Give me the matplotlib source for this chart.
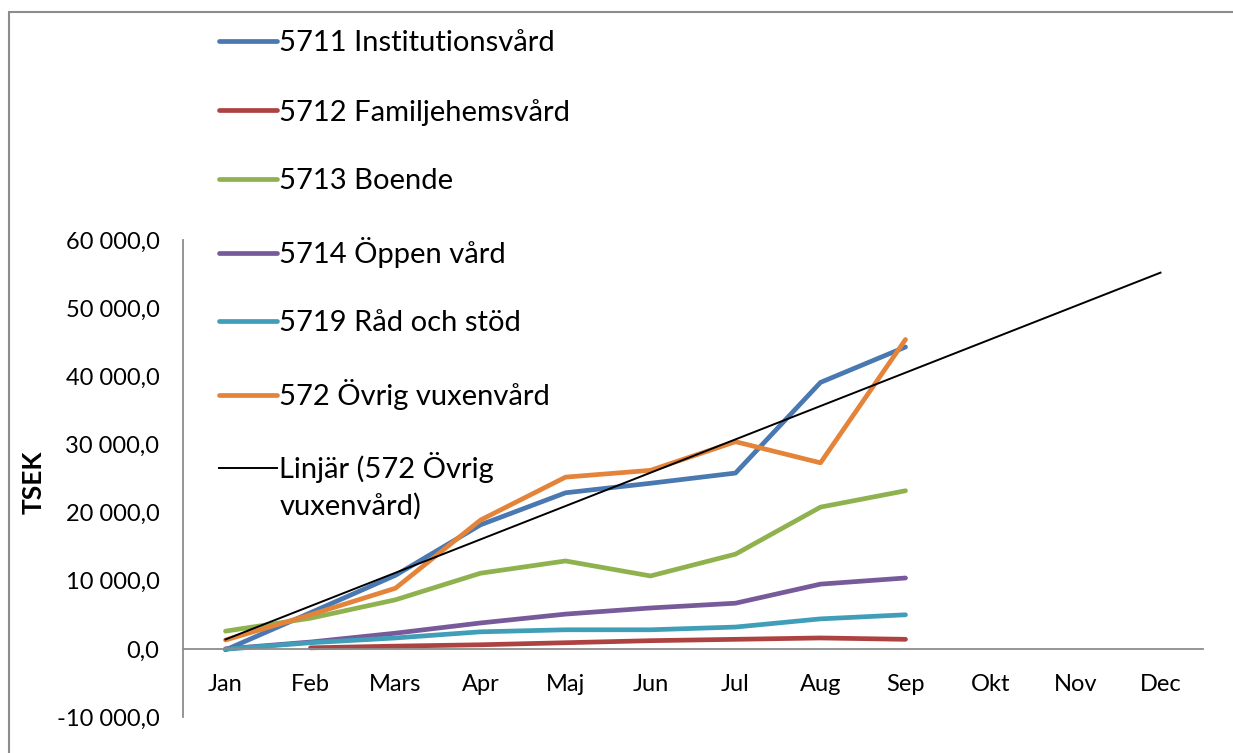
import numpy as np
import matplotlib
matplotlib.use("Agg")
import matplotlib.pyplot as plt
from matplotlib.ticker import FuncFormatter, MultipleLocator
from matplotlib.patches import Rectangle

plt.rcParams['font.family'] = ['Lato', 'DejaVu Sans']

months = ["Jan", "Feb", "Mars", "Apr", "Maj", "Jun", "Jul", "Aug", "Sep", "Okt", "Nov", "Dec"]
nan = np.nan
s5711 = [-150, 5300, 10800, 18200, 22900, 24300, 25800, 39100, 44300, nan, nan, nan]
s5712 = [nan, 150, 400, 600, 900, 1200, 1400, 1600, 1400, nan, nan, nan]
s5713 = [2600, 4500, 7200, 11100, 12900, 10700, 13900, 20800, 23200, nan, nan, nan]
s5714 = [0, 1000, 2300, 3800, 5100, 6000, 6700, 9500, 10400, nan, nan, nan]
s5719 = [-50, 900, 1600, 2500, 2800, 2800, 3200, 4400, 5000, nan, nan, nan]
s572 = [1300, 5000, 8900, 18900, 25200, 26200, 30400, 27300, 45400, nan, nan, nan]

labels = ["5711 Institutionsvård", "5712 Familjehemsvård", "5713 Boende",
          "5714 Öppen vård", "5719 Råd och stöd", "572 Övrig vuxenvård"]
colors = ["#4A78B0", "#AD4341", "#8FB24F", "#775A9A", "#409EB8", "#E4843A"]
trend_label_1 = "Linjär (572 Övrig"
trend_label_2 = "vuxenvård)"

fig = plt.figure(figsize=(12.33, 7.53), dpi=100)
ax = fig.add_axes([183/1233, 1-717/753, 1020/1233, 477/753])

x = np.arange(len(months))
handles = []
for data, lab, col in zip([s5711, s5712, s5713, s5714, s5719, s572], labels, colors):
    h, = ax.plot(x, data, color=col, lw=3.4, solid_capstyle='round', solid_joinstyle='round', label=lab)
    handles.append(h)

# linear trend of 572 over available months, extended to Dec
y572 = np.array(s572, dtype=float)
mask = ~np.isnan(y572)
coef = np.polyfit(x[mask], y572[mask], 1)
th, = ax.plot(x, np.polyval(coef, x), color='black', lw=1.4, label=trend_label_1)
handles.append(th)

ax.set_xlim(-0.5, 11.5)
ax.set_ylim(-10000, 60000)
ax.yaxis.set_major_locator(MultipleLocator(10000))
ax.yaxis.set_major_formatter(FuncFormatter(lambda v, p: f"{v:,.1f}".replace(",", " ").replace(".", ",")))
ax.set_xticks(x)
ax.set_xticklabels(months)
for s in ['top', 'right']:
    ax.spines[s].set_visible(False)
ax.spines['bottom'].set_position(('data', 0))
for s in ['left', 'bottom']:
    ax.spines[s].set_color('#8C8C8C')
    ax.spines[s].set_linewidth(1.3)
ax.tick_params(axis='both', length=0, labelsize=17)
ax.tick_params(axis='y', pad=17)
ax.tick_params(axis='x', pad=18)

fig.text(34/1233, 1-482/753, "TSEK", rotation=90, fontsize=19, fontweight='bold', ha='center', va='center')

leg = ax.legend(handles=handles, loc='upper left', bbox_to_anchor=(219/1233, 1-30/753),
                bbox_transform=fig.transFigure, frameon=False, fontsize=21,
                handlelength=2.0, handletextpad=0.07, labelspacing=1.46, borderaxespad=0, borderpad=0)

fig.canvas.draw()
bb = leg.get_texts()[-1].get_window_extent()
fig.text(bb.x0 / fig.bbox.width, 1-515/753, trend_label_2, fontsize=21, ha='left', va='baseline')

fig.add_artist(Rectangle((9/1233, -0.1), 1.2, 1.1 - 12/753, transform=fig.transFigure,
                         fill=False, edgecolor='#8C8C8C', lw=1.5, clip_on=False))

fig.savefig("out.png", dpi=100)
